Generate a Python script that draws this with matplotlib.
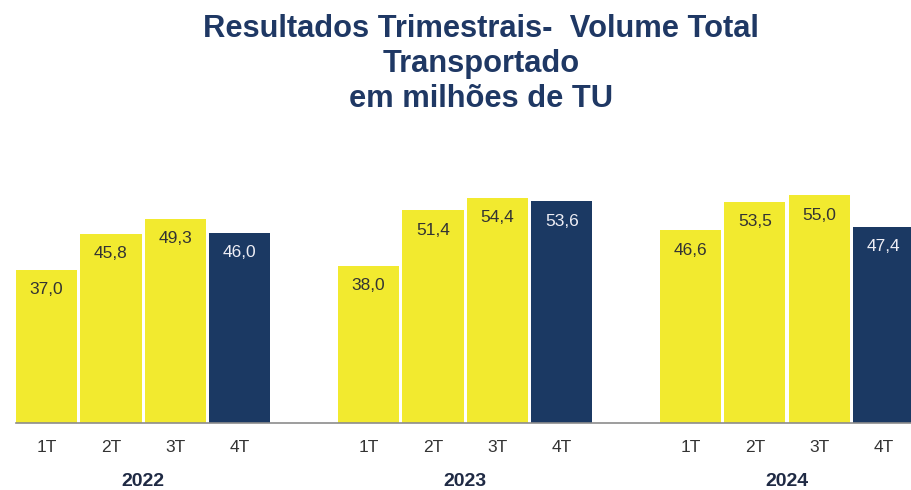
import numpy as np
import matplotlib.pyplot as plt

plt.rcParams['font.family'] = ['Liberation Sans', 'DejaVu Sans']

anos = ["2022", "2023", "2024"]
trimestres = ["1T", "2T", "3T", "4T"]
vol_2022 = [37.0, 45.8, 49.3, 46.0]
vol_2023 = [38.0, 51.4, 54.4, 53.6]
vol_2024 = [46.6, 53.5, 55.0, 47.4]

amarelo = '#F2EA2F'
azul = '#1B3963'

fig = plt.figure(figsize=(9.12, 4.9), dpi=100)
ax = fig.add_axes([16/912, 67/490, 896/912, 273/490])

pos = []
vals = []
for g, serie in enumerate([vol_2022, vol_2023, vol_2024]):
    for i, v in enumerate(serie):
        pos.append(g * 5 + i)
        vals.append(v)
pos = np.array(pos)
cores = [azul if i % 4 == 3 else amarelo for i in range(len(vals))]

ax.bar(pos, vals, width=0.95, color=cores)

for x, v, c in zip(pos, vals, cores):
    txt = f"{v:.1f}".replace(".", ",")
    ax.text(x, v - 4.8, txt, ha='center', va='center', fontsize=12.5,
            color='#EEEEF5' if c == azul else '#333333')

ax.set_xlim(-0.475, 13.44)
ax.set_ylim(0, 66)
ax.set_xticks(pos)
ax.set_xticklabels(trimestres * 3, fontsize=12.5, color='#333333')
ax.tick_params(axis='x', length=0, pad=12)
ax.set_yticks([])
for s in ['top', 'right', 'left']:
    ax.spines[s].set_visible(False)
ax.spines['bottom'].set_color('#8C8C8C')
ax.spines['bottom'].set_linewidth(1.2)

for g, ano in enumerate(anos):
    ax.text(g * 5 + 1.5, -14.2, ano, ha='center', va='center', fontsize=14,
            fontweight='bold', color='#1F2A44')

fig.text(481/912, 1 - 64/490,
         "Resultados Trimestrais-  Volume Total\nTransportado\nem milhões de TU",
         ha='center', va='center', fontsize=22.2, fontweight='bold',
         color='#1F3864', linespacing=1.21)

fig.savefig("out.png", dpi=100)
